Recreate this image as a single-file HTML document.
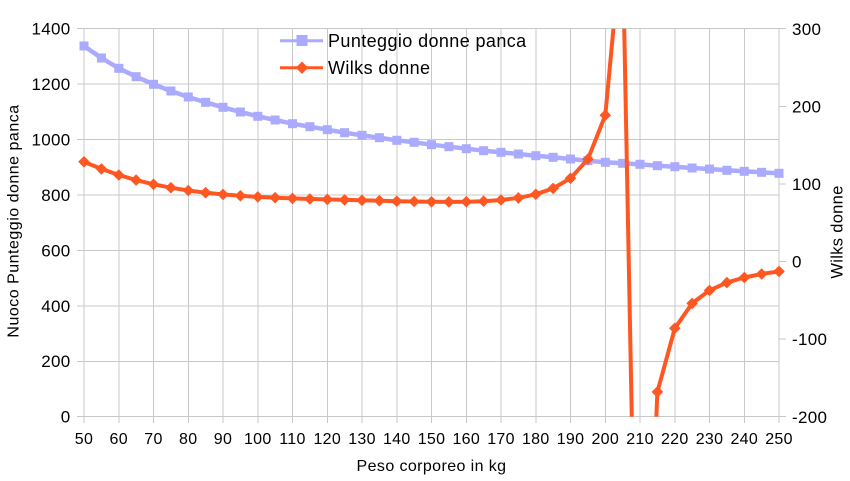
<!DOCTYPE html>
<html>
<head>
<meta charset="utf-8">
<style>
  html, body { margin:0; padding:0; background:#ffffff; }
  body { width:850px; height:481px; overflow:hidden; }
  svg { display:block; overflow:hidden; }
  text { font-family: "Liberation Sans", Arial, Helvetica, sans-serif; fill:#000; }
</style>
</head>
<body>
<svg width="850" height="481" viewBox="0 0 850 481" xmlns="http://www.w3.org/2000/svg">
  <defs>
    <clipPath id="plot">
      <rect x="84" y="28.7" width="695" height="388"/>
    </clipPath>
    <marker id="sq" markerUnits="userSpaceOnUse" markerWidth="12" markerHeight="12" refX="6" refY="6" viewBox="0 0 12 12">
      <rect x="1.5" y="1.5" width="9" height="9" fill="#aaaaff"/>
    </marker>
    <marker id="dm" markerUnits="userSpaceOnUse" markerWidth="14" markerHeight="14" refX="7" refY="7" viewBox="0 0 14 14">
      <path d="M7,1.2 L12.8,7 L7,12.8 L1.2,7 Z" fill="#ff5722"/>
    </marker>
  </defs>

  <!-- grid -->
  <g stroke="#c8c8c8" stroke-width="1" shape-rendering="crispEdges" fill="none">
    <line x1="77" y1="28.7" x2="779" y2="28.7"/>
    <line x1="77" y1="84.1" x2="779" y2="84.1"/>
    <line x1="77" y1="139.6" x2="779" y2="139.6"/>
    <line x1="77" y1="195.0" x2="779" y2="195.0"/>
    <line x1="77" y1="250.4" x2="779" y2="250.4"/>
    <line x1="77" y1="305.9" x2="779" y2="305.9"/>
    <line x1="77" y1="361.3" x2="779" y2="361.3"/>
    <line x1="77" y1="416.7" x2="779" y2="416.7"/>
    <line x1="84" y1="28.7" x2="84" y2="423"/>
    <line x1="118.75" y1="28.7" x2="118.75" y2="423"/>
    <line x1="153.5" y1="28.7" x2="153.5" y2="423"/>
    <line x1="188.25" y1="28.7" x2="188.25" y2="423"/>
    <line x1="223" y1="28.7" x2="223" y2="423"/>
    <line x1="257.75" y1="28.7" x2="257.75" y2="423"/>
    <line x1="292.5" y1="28.7" x2="292.5" y2="423"/>
    <line x1="327.25" y1="28.7" x2="327.25" y2="423"/>
    <line x1="362" y1="28.7" x2="362" y2="423"/>
    <line x1="396.75" y1="28.7" x2="396.75" y2="423"/>
    <line x1="431.5" y1="28.7" x2="431.5" y2="423"/>
    <line x1="466.25" y1="28.7" x2="466.25" y2="423"/>
    <line x1="501" y1="28.7" x2="501" y2="423"/>
    <line x1="535.75" y1="28.7" x2="535.75" y2="423"/>
    <line x1="570.5" y1="28.7" x2="570.5" y2="423"/>
    <line x1="605.25" y1="28.7" x2="605.25" y2="423"/>
    <line x1="640" y1="28.7" x2="640" y2="423"/>
    <line x1="674.75" y1="28.7" x2="674.75" y2="423"/>
    <line x1="709.5" y1="28.7" x2="709.5" y2="423"/>
    <line x1="744.25" y1="28.7" x2="744.25" y2="423"/>
    <line x1="779" y1="28.7" x2="779" y2="423"/>
    <line x1="779" y1="28.7" x2="786" y2="28.7"/>
    <line x1="779" y1="106.3" x2="786" y2="106.3"/>
    <line x1="779" y1="183.9" x2="786" y2="183.9"/>
    <line x1="779" y1="261.5" x2="786" y2="261.5"/>
    <line x1="779" y1="339.1" x2="786" y2="339.1"/>
    <line x1="779" y1="416.7" x2="786" y2="416.7"/>
  </g>

  <!-- left tick labels -->
  <g font-size="17" text-anchor="end" letter-spacing="0.3">
    <text x="70.5" y="34.6">1400</text>
    <text x="70.5" y="90.0">1200</text>
    <text x="70.5" y="145.5">1000</text>
    <text x="70.5" y="200.9">800</text>
    <text x="70.5" y="256.3">600</text>
    <text x="70.5" y="311.8">400</text>
    <text x="70.5" y="367.2">200</text>
    <text x="70.5" y="422.6">0</text>
  </g>

  <!-- right tick labels -->
  <g font-size="17" text-anchor="start" letter-spacing="0.3">
    <text x="792" y="34.8">300</text>
    <text x="792" y="112.4">200</text>
    <text x="792" y="190.0">100</text>
    <text x="792" y="267.6">0</text>
    <text x="792" y="345.2">-100</text>
    <text x="792" y="422.8">-200</text>
  </g>

  <!-- bottom tick labels -->
  <g font-size="16" text-anchor="middle" letter-spacing="0.3">
    <text x="84" y="444">50</text>
    <text x="118.75" y="444">60</text>
    <text x="153.5" y="444">70</text>
    <text x="188.25" y="444">80</text>
    <text x="223" y="444">90</text>
    <text x="257.75" y="444">100</text>
    <text x="292.5" y="444">110</text>
    <text x="327.25" y="444">120</text>
    <text x="362" y="444">130</text>
    <text x="396.75" y="444">140</text>
    <text x="431.5" y="444">150</text>
    <text x="466.25" y="444">160</text>
    <text x="501" y="444">170</text>
    <text x="535.75" y="444">180</text>
    <text x="570.5" y="444">190</text>
    <text x="605.25" y="444">200</text>
    <text x="640" y="444">210</text>
    <text x="674.75" y="444">220</text>
    <text x="709.5" y="444">230</text>
    <text x="744.25" y="444">240</text>
    <text x="779" y="444">250</text>
  </g>

  <!-- axis titles -->
  <text x="431.5" y="471" font-size="16" text-anchor="middle" letter-spacing="0.4">Peso corporeo in kg</text>
  <text transform="translate(18.5,221) rotate(-90)" font-size="16" text-anchor="middle" letter-spacing="0.5">Nuoco Punteggio donne panca</text>
  <text transform="translate(842.5,232) rotate(-90)" font-size="16.5" text-anchor="middle" letter-spacing="0.3">Wilks donne</text>

  <!-- Blue series -->
  <polyline fill="none" stroke="#aaaaff" stroke-width="4.5" stroke-linejoin="round"
    points="84,46 101.4,58 118.8,68.3 136.1,76.7 153.5,84.3 170.9,91 188.3,97 205.6,102.3 223,107.3 240.4,112 257.8,116.3 275.1,120 292.5,123.7 309.9,126.7 327.3,129.7 344.6,132.7 362,135.3 379.4,137.7 396.8,140.3 414.1,142.3 431.5,144.7 448.9,146.7 466.3,148.7 483.6,150.7 501,152.3 518.4,154 535.8,155.7 553.1,157.3 570.5,159 587.9,160.7 605.3,162.3 622.6,163.3 640,164.3 657.4,165.7 674.8,166.7 692.1,168 709.5,169 726.9,170.3 744.3,171.3 761.6,172.3 779,173.3"/>
  <polyline fill="none" stroke="none" marker-start="url(#sq)" marker-mid="url(#sq)" marker-end="url(#sq)"
    points="84,46 101.4,58 118.8,68.3 136.1,76.7 153.5,84.3 170.9,91 188.3,97 205.6,102.3 223,107.3 240.4,112 257.8,116.3 275.1,120 292.5,123.7 309.9,126.7 327.3,129.7 344.6,132.7 362,135.3 379.4,137.7 396.8,140.3 414.1,142.3 431.5,144.7 448.9,146.7 466.3,148.7 483.6,150.7 501,152.3 518.4,154 535.8,155.7 553.1,157.3 570.5,159 587.9,160.7 605.3,162.3 622.6,163.3 640,164.3 657.4,165.7 674.8,166.7 692.1,168 709.5,169 726.9,170.3 744.3,171.3 761.6,172.3 779,173.3"/>

  <!-- Orange series (pre-clipped segments) -->
  <g clip-path="url(#plot)" fill="none" stroke="#ff5722" stroke-width="4" stroke-linejoin="round">
    <polyline points="84,161.8 101.4,168.9 118.8,175.0 136.1,180.1 153.5,184.3 170.9,187.7 188.3,190.5 205.6,192.7 223,194.4 240.4,195.8 257.8,196.9 275.1,197.7 292.5,198.4 309.9,199.0 327.3,199.4 344.6,199.9 362,200.3 379.4,200.7 396.8,201.2 414.1,201.5 431.5,201.8 448.9,201.9 466.3,201.7 483.6,201.2 501,200.0 518.4,197.9 535.8,194.3 553.1,188.4 570.5,178.3 587.9,159.2 605.3,115.2 613.6,27"/>
    <polyline points="624.2,27 631.8,418"/>
    <polyline points="656.3,418 657.4,391.9 674.8,328.3 692.1,303.4 709.5,290.4 726.9,282.6 744.3,277.5 761.6,274.0 779,271.4"/>
  </g>
  <polyline fill="none" stroke="none" marker-start="url(#dm)" marker-mid="url(#dm)" marker-end="url(#dm)"
    points="84,161.8 101.4,168.9 118.8,175.0 136.1,180.1 153.5,184.3 170.9,187.7 188.3,190.5 205.6,192.7 223,194.4 240.4,195.8 257.8,196.9 275.1,197.7 292.5,198.4 309.9,199.0 327.3,199.4 344.6,199.9 362,200.3 379.4,200.7 396.8,201.2 414.1,201.5 431.5,201.8 448.9,201.9 466.3,201.7 483.6,201.2 501,200.0 518.4,197.9 535.8,194.3 553.1,188.4 570.5,178.3 587.9,159.2 605.3,115.2"/>
  <polyline fill="none" stroke="none" marker-start="url(#dm)" marker-mid="url(#dm)" marker-end="url(#dm)"
    points="657.4,391.9 674.8,328.3 692.1,303.4 709.5,290.4 726.9,282.6 744.3,277.5 761.6,274.0 779,271.4"/>

  <!-- Legend -->
  <line x1="280" y1="40.7" x2="323" y2="40.7" stroke="#aaaaff" stroke-width="3"/>
  <rect x="296.5" y="35" width="11" height="11" fill="#aaaaff"/>
  <text x="328" y="47" font-size="18" letter-spacing="0.4">Punteggio donne panca</text>

  <line x1="280" y1="67.7" x2="323" y2="67.7" stroke="#ff5722" stroke-width="3"/>
  <path d="M302,61.5 L308.2,67.7 L302,73.9 L295.8,67.7 Z" fill="#ff5722"/>
  <text x="328" y="74" font-size="18" letter-spacing="0.4">Wilks donne</text>
</svg>
</body>
</html>
